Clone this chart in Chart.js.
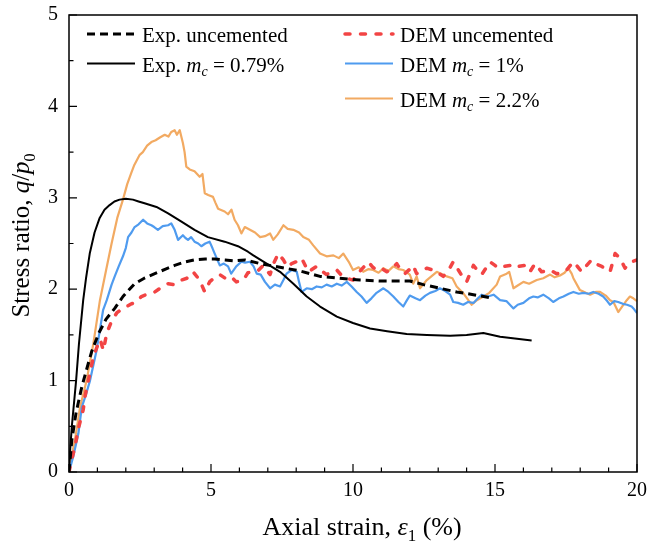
<!DOCTYPE html>
<html>
<head>
<meta charset="utf-8">
<style>
  html, body { margin: 0; padding: 0; background: #fff; }
  #wrap { width: 648px; height: 546px; }
</style>
</head>
<body>
<div id="wrap"><canvas id="stressChart"></canvas></div>
<script src="https://cdn.jsdelivr.net/npm/chart.js"></script>
<script>
    // [axial strain %, stress ratio q/p0]
    const expUncemented = [[0,0],[0.1,0.35],[0.25,0.65],[0.45,0.93],[0.6,1.1],[0.8,1.32],[1.05,1.52],[1.3,1.67],[1.61,1.79],[1.9,1.92],[2.31,2.06],[2.65,2.12],[3.02,2.17],[3.4,2.22],[3.72,2.26],[4.1,2.3],[4.42,2.32],[4.8,2.33],[5.13,2.33],[5.5,2.32],[5.83,2.31],[6.2,2.32],[6.73,2.28],[7.43,2.24],[8.13,2.2],[8.84,2.14],[9.54,2.12],[10.25,2.1],[10.95,2.09],[11.65,2.09],[12.0,2.09],[12.48,2.05],[13.06,2.01],[13.65,1.97],[14.24,1.94],[14.94,1.9]];

    const expCemented = [[0,0],[0.04,0.24],[0.1,0.5],[0.25,1.0],[0.35,1.4],[0.5,1.88],[0.6,2.12],[0.73,2.39],[0.9,2.62],[1.08,2.78],[1.25,2.87],[1.43,2.92],[1.6,2.96],[1.78,2.98],[2.0,2.99],[2.25,2.98],[2.45,2.96],[2.66,2.94],[3.08,2.9],[3.49,2.83],[3.96,2.74],[4.42,2.65],[4.89,2.57],[5.48,2.52],[5.95,2.47],[6.3,2.41],[6.49,2.37],[6.96,2.28],[7.43,2.19],[7.9,2.06],[8.37,1.92],[8.84,1.81],[9.43,1.7],[10.0,1.63],[10.6,1.57],[11.2,1.54],[11.89,1.51],[12.6,1.5],[13.42,1.49],[14.0,1.5],[14.59,1.52],[15.18,1.48],[15.7,1.46],[16.29,1.44]];

    const demUncemented = [[0,0],[0.04,0.06],[0.21,0.28],[0.35,0.5],[0.5,0.68],[0.56,0.82],[0.68,1.0],[0.86,1.26],[1.0,1.38],[1.1,1.45],[1.21,1.33],[1.33,1.52],[1.5,1.65],[1.68,1.74],[1.85,1.78],[2.03,1.81],[2.2,1.84],[2.38,1.86],[2.55,1.92],[2.8,1.95],[3.02,1.97],[3.25,2.02],[3.49,2.06],[3.7,2.05],[3.96,2.1],[4.15,2.12],[4.37,2.19],[4.6,2.1],[4.78,1.97],[4.95,2.08],[5.1,2.12],[5.31,2.16],[5.5,2.12],[5.7,2.14],[5.89,2.08],[6.14,2.1],[6.3,2.18],[6.49,2.19],[6.65,2.2],[6.84,2.26],[7.08,2.16],[7.2,2.28],[7.37,2.39],[7.55,2.32],[7.7,2.24],[7.84,2.28],[8.0,2.3],[8.19,2.34],[8.43,2.19],[8.72,2.25],[8.9,2.2],[9.07,2.16],[9.25,2.19],[9.43,2.21],[9.6,2.15],[9.78,2.12],[10.0,2.1],[10.2,2.18],[10.4,2.25],[10.54,2.3],[10.7,2.24],[10.83,2.21],[11.0,2.23],[11.19,2.19],[11.35,2.22],[11.54,2.28],[11.7,2.2],[11.83,2.17],[12.0,2.22],[12.12,2.26],[12.24,2.17],[12.4,2.2],[12.6,2.23],[12.9,2.2],[13.18,2.14],[13.35,2.2],[13.53,2.3],[13.71,2.21],[13.85,2.14],[14.0,2.08],[14.24,2.26],[14.4,2.2],[14.53,2.16],[14.7,2.24],[14.82,2.3],[15.0,2.26],[15.12,2.23],[15.3,2.25],[15.53,2.26],[15.7,2.23],[15.85,2.25],[16.06,2.26],[16.23,2.19],[16.41,2.28],[16.64,2.19],[16.8,2.2],[16.94,2.21],[17.17,2.17],[17.35,2.18],[17.52,2.21],[17.76,2.3],[17.9,2.25],[18.05,2.19],[18.2,2.25],[18.4,2.32],[18.6,2.27],[18.76,2.25],[18.9,2.22],[19.05,2.19],[19.23,2.39],[19.4,2.34],[19.58,2.23],[19.7,2.27],[19.81,2.3],[20,2.32]];

    const dem1 = [[0,0],[0.15,0.17],[0.33,0.42],[0.45,0.71],[0.6,0.85],[0.74,1.0],[0.97,1.33],[1.2,1.77],[1.33,1.88],[1.5,2.05],[1.61,2.14],[1.75,2.25],[1.9,2.36],[2.0,2.45],[2.08,2.57],[2.2,2.62],[2.31,2.68],[2.45,2.71],[2.61,2.76],[2.75,2.72],[2.9,2.7],[3.0,2.68],[3.13,2.65],[3.3,2.69],[3.49,2.7],[3.6,2.72],[3.72,2.65],[3.84,2.54],[4.01,2.59],[4.1,2.56],[4.19,2.54],[4.3,2.57],[4.42,2.52],[4.55,2.5],[4.66,2.47],[4.8,2.5],[4.95,2.52],[5.05,2.45],[5.13,2.39],[5.31,2.26],[5.45,2.28],[5.6,2.25],[5.71,2.17],[5.89,2.25],[6.07,2.3],[6.2,2.29],[6.37,2.3],[6.5,2.25],[6.61,2.17],[6.75,2.16],[6.9,2.08],[7.08,2.01],[7.25,2.05],[7.43,2.03],[7.55,2.1],[7.66,2.17],[7.84,2.21],[8.02,2.19],[8.1,2.08],[8.19,1.97],[8.37,2.01],[8.55,2.0],[8.72,2.03],[8.9,2.02],[9.07,2.05],[9.25,2.03],[9.43,2.06],[9.6,2.04],[9.78,2.08],[9.95,2.03],[10.13,1.97],[10.3,1.92],[10.48,1.85],[10.65,1.9],[10.83,1.96],[11.07,2.01],[11.25,1.97],[11.42,1.92],[11.6,1.86],[11.77,1.81],[11.9,1.88],[12.0,1.93],[12.2,1.9],[12.36,1.88],[12.55,1.93],[12.71,1.96],[12.9,1.98],[13.06,2.01],[13.25,1.98],[13.42,1.94],[13.53,1.86],[13.7,1.85],[13.88,1.83],[14.05,1.86],[14.24,1.85],[14.4,1.9],[14.53,1.94],[14.75,1.92],[14.95,1.94],[15.18,1.88],[15.4,1.87],[15.65,1.79],[15.8,1.83],[16.0,1.85],[16.2,1.9],[16.35,1.92],[16.5,1.91],[16.7,1.94],[16.9,1.9],[17.05,1.86],[17.25,1.9],[17.41,1.92],[17.6,1.95],[17.76,1.97],[17.95,1.95],[18.11,1.96],[18.3,1.95],[18.46,1.97],[18.65,1.95],[18.81,1.92],[18.95,1.87],[19.05,1.83],[19.2,1.87],[19.34,1.86],[19.5,1.84],[19.65,1.83],[19.81,1.81],[19.9,1.78],[20,1.74]];

    const dem22 = [[0,0],[0.04,0.1],[0.21,0.35],[0.39,0.71],[0.62,1.0],[0.86,1.41],[1.09,1.88],[1.3,2.2],[1.5,2.5],[1.7,2.78],[1.9,2.98],[2.05,3.15],[2.19,3.27],[2.3,3.36],[2.49,3.47],[2.6,3.5],[2.75,3.57],[2.9,3.61],[3.05,3.63],[3.2,3.66],[3.37,3.69],[3.5,3.67],[3.6,3.72],[3.72,3.74],[3.8,3.69],[3.9,3.74],[4.01,3.6],[4.07,3.5],[4.13,3.34],[4.25,3.31],[4.42,3.29],[4.6,3.23],[4.7,3.26],[4.78,3.05],[4.9,3.03],[5.07,3.01],[5.15,2.95],[5.25,2.88],[5.48,2.85],[5.6,2.82],[5.72,2.87],[5.83,2.76],[5.95,2.7],[6.07,2.61],[6.19,2.68],[6.37,2.65],[6.55,2.62],[6.73,2.57],[6.9,2.58],[7.08,2.61],[7.19,2.54],[7.35,2.6],[7.55,2.7],[7.7,2.66],[7.9,2.65],[8.1,2.62],[8.25,2.57],[8.45,2.54],[8.6,2.48],[8.84,2.39],[9.07,2.36],[9.31,2.37],[9.5,2.34],[9.66,2.39],[9.85,2.3],[10.0,2.21],[10.2,2.24],[10.36,2.19],[10.55,2.22],[10.71,2.21],[10.9,2.18],[11.07,2.23],[11.25,2.2],[11.42,2.25],[11.6,2.22],[11.77,2.21],[12.0,2.16],[12.12,2.06],[12.24,2.14],[12.36,2.01],[12.6,2.1],[12.95,2.19],[13.1,2.17],[13.3,2.14],[13.5,2.12],[13.65,2.03],[13.9,1.95],[14.06,1.88],[14.18,1.83],[14.36,1.88],[14.59,1.92],[14.8,1.96],[15.06,2.05],[15.18,2.14],[15.41,2.17],[15.5,2.19],[15.65,2.01],[15.8,2.04],[16.0,2.08],[16.2,2.06],[16.47,2.1],[16.7,2.12],[16.94,2.16],[17.1,2.13],[17.29,2.15],[17.45,2.18],[17.58,2.23],[17.7,2.17],[17.76,2.12],[17.99,1.99],[18.2,1.96],[18.35,1.94],[18.55,1.97],[18.7,1.97],[18.9,1.93],[19.05,1.88],[19.17,1.86],[19.28,1.79],[19.34,1.75],[19.5,1.82],[19.64,1.88],[19.75,1.92],[19.87,1.9],[20.0,1.87]];

    const xTickValues = [0, 5, 10, 15, 20];
    const yTickValues = [0, 1, 2, 3, 4, 5];

    const SERIF = '"Liberation Serif", "Times New Roman", serif';
    const toPts = arr => arr.map(p => ({ x: p[0], y: p[1] }));

    function partFont(p, size) {
        const s = p.sub ? Math.round(size * 0.65) : size;
        return (p.it ? 'italic ' : '') + s + 'px ' + SERIF;
    }

    // draws text made of pieces (italic / subscript)
    function drawRich(ctx, parts, x, y, size, align) {
        let w = 0;
        parts.forEach(p => { ctx.font = partFont(p, size); w += ctx.measureText(p.t).width; });
        let cx = align === 'center' ? x - w / 2 : x;
        ctx.textAlign = 'left';
        ctx.textBaseline = 'alphabetic';
        parts.forEach(p => {
            ctx.font = partFont(p, size);
            ctx.fillText(p.t, cx, y + (p.sub ? size * 0.22 : 0));
            cx += ctx.measureText(p.t).width;
        });
    }

    const legendItems = [
        { ds: 0, col: 0, row: 0, parts: [{ t: 'Exp. uncemented' }] },
        { ds: 1, col: 0, row: 1, parts: [{ t: 'Exp. ' }, { t: 'm', it: true }, { t: 'c', it: true, sub: true }, { t: ' = 0.79%' }] },
        { ds: 2, col: 1, row: 0, parts: [{ t: 'DEM uncemented' }] },
        { ds: 3, col: 1, row: 1, parts: [{ t: 'DEM ' }, { t: 'm', it: true }, { t: 'c', it: true, sub: true }, { t: ' = 1%' }] },
        { ds: 4, col: 1, row: 2, parts: [{ t: 'DEM ' }, { t: 'm', it: true }, { t: 'c', it: true, sub: true }, { t: ' = 2.2%' }] }
    ];

    const framePlugin = {
        id: 'frame',
        afterDraw(chart) {
            const { ctx, chartArea: a, scales } = chart;
            ctx.save();
            ctx.strokeStyle = '#000';
            ctx.lineWidth = 1.5;
            ctx.strokeRect(a.left, a.top, a.right - a.left, a.bottom - a.top);

            // inward ticks
            ctx.lineWidth = 1.2;
            ctx.beginPath();
            for (let v = 0; v <= 20; v += 1) {
                const px = scales.x.getPixelForValue(v);
                const len = v % 5 === 0 ? 8 : 4.5;
                ctx.moveTo(px, a.bottom); ctx.lineTo(px, a.bottom - len);
            }
            for (let v = 0; v <= 5; v += 0.5) {
                const py = scales.y.getPixelForValue(v);
                const len = Number.isInteger(v) ? 8 : 4.5;
                ctx.moveTo(a.left, py); ctx.lineTo(a.left + len, py);
            }
            ctx.stroke();

            // legend
            ctx.fillStyle = '#000';
            const colX = [87, 345];
            const rowY = [34, 63.5, 98.5];
            legendItems.forEach(it => {
                const ds = chart.data.datasets[it.ds];
                const x0 = colX[it.col], y0 = rowY[it.row];
                ctx.save();
                ctx.strokeStyle = ds.borderColor;
                ctx.lineWidth = ds.borderWidth;
                ctx.lineCap = ds.borderCapStyle || 'butt';
                ctx.setLineDash(ds.borderDash || []);
                ctx.beginPath();
                ctx.moveTo(x0, y0); ctx.lineTo(x0 + 48, y0);
                ctx.stroke();
                ctx.restore();
                drawRich(ctx, it.parts, x0 + 55, y0 + 8, 21, 'left');
            });

            // axis titles
            drawRich(ctx, [{ t: 'Axial strain, ' }, { t: 'ε', it: true }, { t: '1', sub: true }, { t: ' (%)' }],
                (a.left + a.right) / 2 + 9, 535, 26, 'center');
            ctx.save();
            ctx.translate(29, (a.top + a.bottom) / 2 - 8);
            ctx.rotate(-Math.PI / 2);
            drawRich(ctx, [{ t: 'Stress ratio, ' }, { t: 'q', it: true }, { t: '/' }, { t: 'p', it: true }, { t: '0', sub: true }],
                0, 0, 25, 'center');
            ctx.restore();
            ctx.restore();
        }
    };

    // keep the plot box fixed: no extra room for edge tick labels
    const noEdgePad = s => {
        s.paddingLeft = 0; s.paddingRight = 0; s.paddingTop = 0; s.paddingBottom = 0;
    };

    const stressChart = new Chart(document.getElementById('stressChart'), {
        type: 'scatter',
        data: {
            datasets: [
                { label: 'Exp. uncemented', data: toPts(expUncemented), borderColor: '#000000', borderWidth: 3, borderDash: [8, 5], order: 1 },
                { label: 'Exp. mc = 0.79%', data: toPts(expCemented), borderColor: '#000000', borderWidth: 2, order: 2 },
                { label: 'DEM uncemented', data: toPts(demUncemented), borderColor: '#f24444', borderWidth: 3.5, borderDash: [5, 10.5], borderCapStyle: 'round', order: 3 },
                { label: 'DEM mc = 1%', data: toPts(dem1), borderColor: '#4f9bef', borderWidth: 2.2, order: 4 },
                { label: 'DEM mc = 2.2%', data: toPts(dem22), borderColor: '#f2aa62', borderWidth: 2.2, order: 5 }
            ].map(d => Object.assign({ showLine: true, pointRadius: 0, tension: 0, fill: false, borderJoinStyle: 'round' }, d))
        },
        options: {
            responsive: true,
            maintainAspectRatio: false,
            animation: false,
            layout: { padding: { top: 15, right: 11, left: 0, bottom: 0 } },
            plugins: { legend: { display: false }, tooltip: { enabled: false } },
            scales: {
                x: {
                    type: 'linear', min: 0, max: 20,
                    afterFit: s => { s.height = 74; noEdgePad(s); },
                    afterBuildTicks: s => { s.ticks = xTickValues.map(v => ({ value: v })); },
                    grid: { display: false, drawTicks: false },
                    border: { display: false },
                    ticks: { color: '#000', font: { family: SERIF, size: 20 }, padding: 7, maxRotation: 0 }
                },
                y: {
                    type: 'linear', min: 0, max: 5,
                    afterFit: s => { s.width = 69; noEdgePad(s); },
                    afterBuildTicks: s => { s.ticks = yTickValues.map(v => ({ value: v })); },
                    grid: { display: false, drawTicks: false },
                    border: { display: false },
                    ticks: { color: '#000', font: { family: SERIF, size: 20 }, padding: 11 }
                }
            }
        },
        plugins: [framePlugin]
    });
</script>
</body>
</html>
